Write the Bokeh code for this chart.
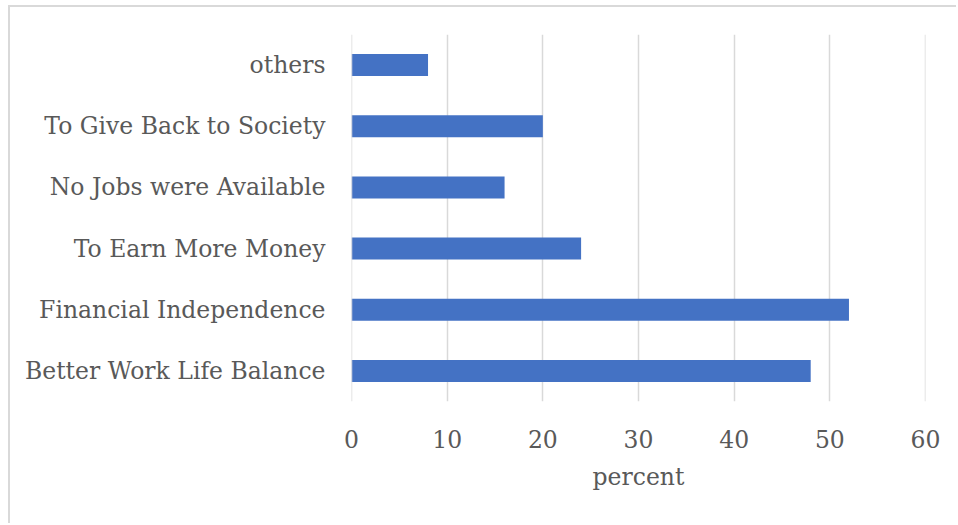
from bokeh.plotting import figure
from bokeh.models import ColumnDataSource, FactorRange, Range1d, FixedTicker, Span
from bokeh.embed import file_html
from bokeh.resources import INLINE

categories = ["Better Work Life Balance", "Financial Independence", "To Earn More Money",
              "No Jobs were Available", "To Give Back to Society", "others"]
percent = [48, 52, 24, 16, 20, 8]
x_ticks = [0, 10, 20, 30, 40, 50, 60]

FONT = "DejaVu Serif"
TXT = "#595959"

src = ColumnDataSource(data=dict(cat=categories, val=percent))

p = figure(width=948, height=518, y_range=FactorRange(factors=categories),
           x_range=Range1d(0, 60), output_backend="svg", toolbar_location=None,
           min_border_left=341, min_border_right=33, min_border_top=27, min_border_bottom=124)
p.styles = {"margin-left": "8px", "margin-top": "5px",
            "border-left": "2px solid #d9d9d9", "border-top": "2px solid #d9d9d9"}

for t in (x_ticks[0], x_ticks[-1]):
    p.add_layout(Span(location=t, dimension="height", line_color="#d9d9d9", line_width=1.5))

p.hbar(y="cat", right="val", left=0, height=0.36, source=src, color="#4472C4", line_color=None)

p.outline_line_color = None
p.ygrid.grid_line_color = None
p.xgrid.grid_line_color = "#d9d9d9"
p.xgrid.grid_line_width = 1.5
p.xaxis.ticker = FixedTicker(ticks=x_ticks)

for ax in (p.xaxis[0], p.yaxis[0]):
    ax.axis_line_color = None
    ax.major_tick_line_color = None
    ax.minor_tick_line_color = None
    ax.major_label_text_font = FONT
    ax.major_label_text_color = TXT
    ax.major_label_text_font_size = "23.5px"

p.yaxis.major_label_standoff = 20
p.xaxis.major_label_standoff = 22
p.xaxis.axis_label = "percent"
p.xaxis.axis_label_text_font = FONT
p.xaxis.axis_label_text_font_style = "normal"
p.xaxis.axis_label_text_color = TXT
p.xaxis.axis_label_text_font_size = "23.5px"
p.xaxis.axis_label_standoff = 12

open("out.html", "w").write(file_html(p, INLINE))
